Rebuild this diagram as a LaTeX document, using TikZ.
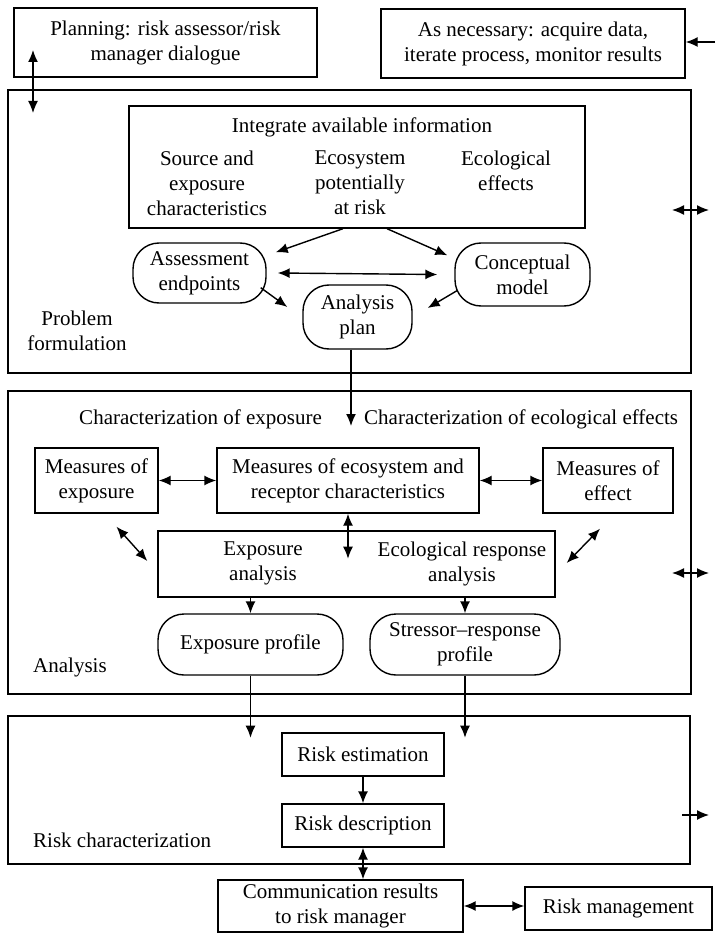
\documentclass[tikz,border=0pt]{standalone}
\usepackage{fontspec}
\setmainfont{Liberation Serif}
\usetikzlibrary{arrows.meta}

\begin{document}
\begin{tikzpicture}[x=1pt,y=-1pt]
\tikzset{box/.style = {draw,line width=1.4pt,align=center,inner sep=0pt,font=\fontsize{21}{25}\selectfont}}
\tikzset{pill/.style = {box,rounded corners=26pt}}
\tikzset{panel/.style = {draw,line width=1.4pt,inner sep=0pt}}
\tikzset{txt/.style = {align=center,inner sep=0pt,font=\fontsize{21}{25}\selectfont}}
\tikzset{edge/.style = {line width=1.4pt,> = {Latex[length=12pt,width=10pt]}}}
\useasboundingbox (0,0) rectangle (715,933);
\node[box,minimum width=303pt,minimum height=69pt](plan) at (165.5,42.5) {Planning: risk assessor/risk\\manager dialogue};
\node[box,minimum width=304pt,minimum height=69pt](need) at (533,43.5) {As necessary: acquire data,\\iterate process, monitor results};
\node[panel,minimum width=683pt,minimum height=283pt](pf) at (349.5,231.5) {};
\node[box,minimum width=456pt,minimum height=122pt](integ) at (357,167) {};
\node[txt](info) at (362,127) {Integrate available information};
\node[txt](src) at (207,183) {Source and\\exposure\\characteristics};
\node[txt](eco) at (360,183) {Ecosystem\\potentially\\at risk};
\node[txt](eff) at (506,171) {Ecological\\effects};
\node[pill,minimum width=133pt,minimum height=60pt](assess) at (199.5,273) {Assessment\\endpoints};
\node[pill,minimum width=135pt,minimum height=63pt](concept) at (522.5,274.5) {Conceptual\\model};
\node[pill,minimum width=109pt,minimum height=64pt](aplan) at (357.5,317) {Analysis\\plan};
\node[txt](pftitle) at (77,331) {Problem\\formulation};
\node[panel,minimum width=683pt,minimum height=303pt](an) at (349.5,542.5) {};
\node[txt,anchor=east](charexp) at (322,419) {Characterization of exposure};
\node[txt,anchor=west](chareco) at (364,419) {Characterization of ecological effects};
\node[box,minimum width=123pt,minimum height=65pt](mexp) at (96.5,480.5) {Measures of\\exposure};
\node[box,minimum width=262pt,minimum height=65pt](meco) at (348,480.5) {Measures of ecosystem and\\receptor characteristics};
\node[box,minimum width=130pt,minimum height=65pt](meff) at (608,480.5) {Measures of\\effect};
\node[box,minimum width=397pt,minimum height=66pt](eana) at (356.5,564) {};
\node[txt](expana) at (263,563.5) {Exposure\\analysis};
\node[txt](ecoana) at (462,563.5) {Ecological response\\analysis};
\node[pill,minimum width=185pt,minimum height=61pt](eprof) at (250.5,644.5) {Exposure profile};
\node[pill,minimum width=190pt,minimum height=61pt](sprof) at (465,644.5) {Stressor–response\\profile};
\node[txt,anchor=west](antitle) at (33,667) {Analysis};
\node[panel,minimum width=682pt,minimum height=148pt](rc) at (349,790) {};
\node[box,minimum width=162pt,minimum height=43pt](rest) at (363,754.5) {Risk estimation};
\node[box,minimum width=162pt,minimum height=43pt](rdesc) at (363,825.5) {Risk description};
\node[txt,anchor=west](rctitle) at (33,840) {Risk characterization};
\node[box,minimum width=245pt,minimum height=52pt](comm) at (340.5,906) {Communication results\\to risk manager};
\node[box,minimum width=187pt,minimum height=43pt](rman) at (618.5,908.5) {Risk management};
\coordinate (pa) at (33,50);
\coordinate (pb) at (33,113);
\coordinate (ea) at (715,42);
\coordinate (ca) at (351,426);
\coordinate (pfa) at (672,210);
\coordinate (pfb) at (709,210);
\coordinate (ana) at (672,573);
\coordinate (anb) at (709,573);
\coordinate (rca) at (682,815);
\coordinate (rcb) at (709,815);
\draw[edge,<->] (pa) -- (pb);
\draw[edge,->] (ea) -- (ea -| need.east);
\draw[edge,->] ([xshift=-14pt]integ.south) -- ([shift={(9,10)}]assess.north east);
\draw[edge,->] ([xshift=30pt]integ.south) -- ([shift={(-7,13)}]concept.north west);
\draw[edge,<->] ([xshift=11pt]assess.east) -- ([xshift=-17pt]concept.west);
\draw[edge,->] ([shift={(-6,-16)}]assess.south east) -- ([shift={(-15,-10)}]aplan.west);
\draw[edge,->] ([shift={(3,16)}]concept.west) -- ([shift={(15,-9)}]aplan.east);
\draw[edge,<->] (pfa) -- (pfb);
\draw[edge,->] (aplan.south -| ca) -- (ca);
\draw[edge,<->] (mexp.east) -- (meco.west);
\draw[edge,<->] (meco.east) -- (meff.west);
\draw[edge,<->] (meco.south) -- ++(0,45);
\draw[edge,<->] ([shift={(20,13)}]mexp.south) -- ([shift={(-10,-3)}]eana.west);
\draw[edge,<->] ([shift={(-8,15)}]meff.south) -- ([shift={(11,-1)}]eana.east);
\draw[edge,->] (eana.south -| eprof.north) -- (eprof.north);
\draw[edge,->] (eana.south -| sprof.north) -- (sprof.north);
\draw[edge,<->] (ana) -- (anb);
\draw[edge,->] (eprof.south) -- ++(0,62);
\draw[edge,->] (sprof.south) -- ++(0,62);
\draw[edge,->] (rest) -- (rdesc);
\draw[edge,<->] (rdesc.south) -- (rdesc.south |- comm.north);
\draw[edge,<->] (comm.east) -- (comm.east -| rman.west);
\draw[edge,->] (rca) -- (rcb);
\end{tikzpicture}
\end{document}
